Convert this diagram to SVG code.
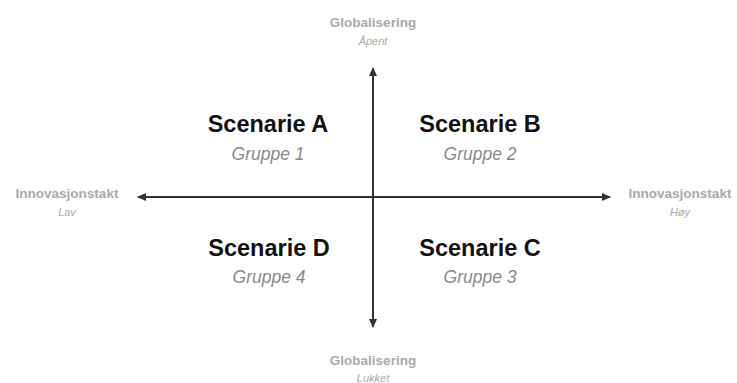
<svg xmlns="http://www.w3.org/2000/svg" width="737" height="383" viewBox="0 0 737 383">
<style>
.t{font-family:"Liberation Sans",Arial,sans-serif;font-weight:bold;font-size:23.5px;fill:#111;text-anchor:middle}
.s{font-family:"Liberation Sans",Arial,sans-serif;font-style:italic;font-size:17.5px;fill:#8a8a8a;text-anchor:middle}
.a{font-family:"Liberation Sans",Arial,sans-serif;font-weight:bold;font-size:13.5px;fill:#aaa;text-anchor:middle}
.b{font-family:"Liberation Sans",Arial,sans-serif;font-style:italic;font-size:11px;fill:#aaa;text-anchor:middle}
.ax{stroke:#333;stroke-width:2;fill:none;marker-end:url(#ah)}
</style>
<defs>
<marker id="ah" markerWidth="10" markerHeight="8" refX="8" refY="4" orient="auto" markerUnits="userSpaceOnUse">
<path d="M0,0 L9,4 L0,8 z" fill="#333"/>
</marker>
</defs>
<rect width="737" height="383" fill="#fff"/>
<g id="connectors">
<line class="ax" x1="373" y1="197" x2="373" y2="68"/>
<line class="ax" x1="373" y1="197" x2="373" y2="327"/>
<line class="ax" x1="373" y1="197" x2="138" y2="197"/>
<line class="ax" x1="373" y1="197" x2="610" y2="197"/>
</g>
<g id="scenA"><text class="t" x="268" y="132">Scenarie A</text><text class="s" x="268" y="160">Gruppe 1</text></g>
<g id="scenB"><text class="t" x="480" y="132">Scenarie B</text><text class="s" x="480" y="160">Gruppe 2</text></g>
<g id="scenD"><text class="t" x="269" y="256">Scenarie D</text><text class="s" x="269" y="283">Gruppe 4</text></g>
<g id="scenC"><text class="t" x="480" y="256">Scenarie C</text><text class="s" x="480" y="283">Gruppe 3</text></g>
<g id="top"><text class="a" x="373" y="27">Globalisering</text><text class="b" x="373" y="45">Åpent</text></g>
<g id="bottom"><text class="a" x="373" y="365">Globalisering</text><text class="b" x="373" y="382">Lukket</text></g>
<g id="left"><text class="a" x="67" y="198">Innovasjonstakt</text><text class="b" x="67" y="216">Lav</text></g>
<g id="right"><text class="a" x="680" y="198">Innovasjonstakt</text><text class="b" x="680" y="216">Høy</text></g>
</svg>
